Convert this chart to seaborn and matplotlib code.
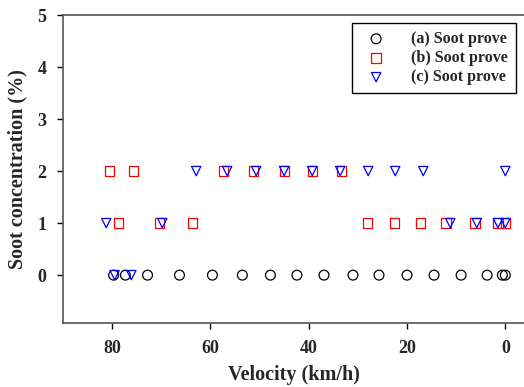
import numpy as np
import pandas as pd
from matplotlib import pyplot as plt
import seaborn as sns

# data (velocity in km/h, soot in %)
vel_a = [79.7, 77.3, 72.8, 66.3, 59.6, 53.5, 47.8, 42.4, 36.9, 31.0, 25.7, 20.0, 14.5, 9.0, 3.7, 0.6, 0.0]
soot_a = [0] * len(vel_a)

vel_b = [80.5, 75.7, 57.4, 51.3, 45.0, 39.3, 33.4,
         78.7, 70.4, 63.7, 28.1, 22.6, 17.3, 12.1, 6.2, 1.5, 0.0]
soot_b = [2, 2, 2, 2, 2, 2, 2,
          1, 1, 1, 1, 1, 1, 1, 1, 1, 1]

vel_c = [62.9, 56.6, 50.7, 45.0, 39.3, 33.6, 27.9, 22.4, 16.7, 0.0,
         81.2, 69.8, 11.2, 5.8, 1.5, 0.0,
         79.5, 76.1]
soot_c = [2, 2, 2, 2, 2, 2, 2, 2, 2, 2,
          1, 1, 1, 1, 1, 1,
          0, 0]

labels = ['(a) Soot prove', '(b) Soot prove', '(c) Soot prove']

sns.set_style("white")
plt.rcParams['font.family'] = ['Liberation Serif', 'DejaVu Serif']
plt.rcParams['font.weight'] = 'bold'

fig = plt.figure(figsize=(5.24, 3.87), dpi=100)
ax = fig.add_axes([63 / 524, (387 - 323) / 387, (524 - 63) / 524, (323 - 15) / 387])

sns.scatterplot(x=vel_a, y=soot_a, marker='o', s=50, facecolors='none',
                edgecolors='black', linewidth=0.9, label=labels[0], ax=ax)
sns.scatterplot(x=vel_b, y=soot_b, marker='s', s=45, facecolors='none',
                edgecolors='red', linewidth=0.9, label=labels[1], ax=ax)
sns.scatterplot(x=vel_c, y=soot_c, marker='v', s=45, facecolors='none',
                edgecolors='blue', linewidth=0.9, label=labels[2], ax=ax)

ax.set_xlim(90, -3.8)
ax.set_ylim(-0.92, 5)
ax.set_xticks([80, 60, 40, 20, 0])
ax.set_yticks([0, 1, 2, 3, 4, 5])

for side in ['left', 'bottom', 'top']:
    ax.spines[side].set_color('#555555')
    ax.spines[side].set_linewidth(1.2)
ax.spines['right'].set_visible(False)

ax.tick_params(axis='both', direction='out', length=4, width=1, color='black',
               labelsize=13, pad=8, bottom=True, left=True)
for t in ax.get_xticklabels() + ax.get_yticklabels():
    t.set_fontweight('bold')

ax.set_xlabel('Velocity (km/h)', fontsize=14.5, fontweight='bold', labelpad=6)
ax.set_ylabel('Soot concentration (%)', fontsize=14.5, fontweight='bold', labelpad=7)

leg = ax.legend(loc='upper right', bbox_to_anchor=(516 / 524, 1 - 23 / 387),
                bbox_transform=fig.transFigure, fancybox=False, framealpha=1,
                edgecolor='black', prop={'weight': 'bold', 'size': 11.5},
                handletextpad=1.2, borderpad=0.5, labelspacing=0.2, borderaxespad=0)
leg.get_frame().set_linewidth(1)

fig.savefig('out.png', dpi=100)
